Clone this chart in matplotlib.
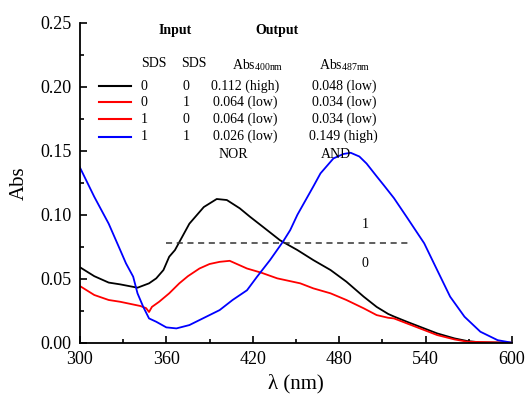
import matplotlib.pyplot as plt
from matplotlib.ticker import MultipleLocator

plt.rcParams['font.family'] = ['Liberation Serif', 'DejaVu Serif']
plt.rcParams['mathtext.fontset'] = 'stix'

# spectra (wavelength nm, absorbance)
wl_black = [300, 310, 320, 328, 340, 348, 353, 358, 362, 366, 376, 386, 395, 402,
            411, 418, 427, 439, 451, 462, 474, 485, 497, 506, 514, 518, 527, 539,
            548, 560, 569, 578, 600]
abs_black = [0.059, 0.052, 0.047, 0.0456, 0.043, 0.0464, 0.0503, 0.0568, 0.0672,
             0.0724, 0.093, 0.106, 0.1123, 0.1115, 0.105, 0.0985, 0.0906, 0.080,
             0.0724, 0.0646, 0.0568, 0.0477, 0.036, 0.028, 0.0225, 0.0205, 0.0164,
             0.0112, 0.0073, 0.0034, 0.0013, 0.0003, 0.0]

wl_red = [300, 310, 320, 328, 342, 346, 348, 350, 355, 362, 369, 375, 383, 390,
          397, 404, 416, 426, 437, 453, 462, 474, 485, 497, 506, 514, 518, 527,
          539, 548, 560, 569, 600]
abs_red = [0.0443, 0.0373, 0.0334, 0.032, 0.0287, 0.027, 0.024, 0.028, 0.032,
           0.0386, 0.0464, 0.052, 0.058, 0.0615, 0.0632, 0.064, 0.058, 0.0547,
           0.0503, 0.0464, 0.0425, 0.0386, 0.0334, 0.0269, 0.0216, 0.0195, 0.019,
           0.0151, 0.0099, 0.006, 0.0026, 0.0008, 0.0]

wl_blue = [300, 310, 320, 328, 332, 337, 340, 344, 348, 353, 360, 367, 376, 383,
           397, 406, 416, 423, 432, 441, 446, 451, 462, 467, 476, 483, 488, 494,
           499, 506, 511, 518, 527, 539, 548, 557, 567, 578, 590, 600]
abs_blue = [0.137, 0.114, 0.093, 0.0724, 0.062, 0.0516, 0.0386, 0.028, 0.019,
            0.0164, 0.012, 0.0112, 0.0138, 0.0177, 0.0255, 0.0334, 0.041, 0.0516,
            0.0646, 0.079, 0.088, 0.100, 0.122, 0.1323, 0.144, 0.1475, 0.1484,
            0.1455, 0.140, 0.130, 0.123, 0.113, 0.098, 0.0777, 0.0568, 0.036,
            0.0203, 0.0086, 0.002, 0.0]

threshold = 0.078
threshold_range = [360, 530]

rows_in1 = ['0', '0', '1', '1']
rows_in2 = ['0', '1', '0', '1']
rows_400 = ['0.112 (high)', '0.064 (low)', '0.064 (low)', '0.026 (low)']
rows_487 = ['0.048 (low)', '0.034 (low)', '0.034 (low)', '0.149 (high)']
row_colors = ['black', 'red', 'red', 'blue']

fig = plt.figure(figsize=(5.29, 3.99), dpi=100)
ax = fig.add_axes([0.151, 0.141, 0.817, 0.802])

lw = 1.3
ax.plot(wl_black, abs_black, color='black', lw=lw)
ax.plot(wl_red, abs_red, color='red', lw=lw)
ax.plot(wl_blue, abs_blue, color='blue', lw=lw)
ax.plot(threshold_range, [threshold, threshold], color='#333333', lw=1.1,
        ls=(0, (4, 3)))

ax.set_xlim(300, 600)
ax.set_ylim(0, 0.25)
ax.xaxis.set_major_locator(MultipleLocator(60))
ax.xaxis.set_minor_locator(MultipleLocator(30))
ax.yaxis.set_major_locator(MultipleLocator(0.05))
ax.yaxis.set_minor_locator(MultipleLocator(0.025))
ax.yaxis.set_major_formatter(plt.FuncFormatter(lambda v, p: f'{v:.2f}'))
ax.tick_params(which='both', direction='in', labelsize=13, width=1.2)
ax.tick_params(which='major', length=5, pad=6)
ax.tick_params(which='minor', length=3)
for s in ['top', 'right']:
    ax.spines[s].set_visible(False)
for s in ['left', 'bottom']:
    ax.spines[s].set_linewidth(1.3)

ax.set_xlabel('λ (nm)', fontsize=15, labelpad=4)
ax.set_ylabel('Abs', fontsize=15, labelpad=8)

# table inside the plot
fs = 10
ax.text(366, 0.2443, 'Input', fontsize=fs, weight='bold', ha='center', va='center')
ax.text(437, 0.2443, 'Output', fontsize=fs, weight='bold', ha='center', va='center')
ax.text(351.6, 0.218, 'SDS', fontsize=fs, ha='center', va='center')
ax.text(378.8, 0.218, 'SDS', fontsize=fs, ha='center', va='center')
ax.text(423.2, 0.217, r'Abs$_{\mathregular{400nm}}$', fontsize=fs, ha='center', va='center')
ax.text(483.6, 0.217, r'Abs$_{\mathregular{487nm}}$', fontsize=fs, ha='center', va='center')

row_y = [0.2005, 0.1878, 0.1745, 0.161]
for i in range(4):
    y = row_y[i]
    ax.plot([313.2, 335.3], [y, y], color=row_colors[i], lw=1.5)
    ax.text(344.6, y, rows_in1[i], fontsize=fs, ha='center', va='center')
    ax.text(373.6, y, rows_in2[i], fontsize=fs, ha='center', va='center')
    ax.text(414.6, y, rows_400[i], fontsize=fs, ha='center', va='center')
    ax.text(483.2, y, rows_487[i], fontsize=fs, ha='center', va='center')

ax.text(406.7, 0.1474, 'NOR', fontsize=fs, ha='center', va='center')
ax.text(478, 0.1474, 'AND', fontsize=fs, ha='center', va='center')
ax.text(498.4, 0.092, '1', fontsize=fs, ha='center', va='center')
ax.text(497.9, 0.062, '0', fontsize=fs, ha='center', va='center')

fig.savefig('out.png', dpi=100)
